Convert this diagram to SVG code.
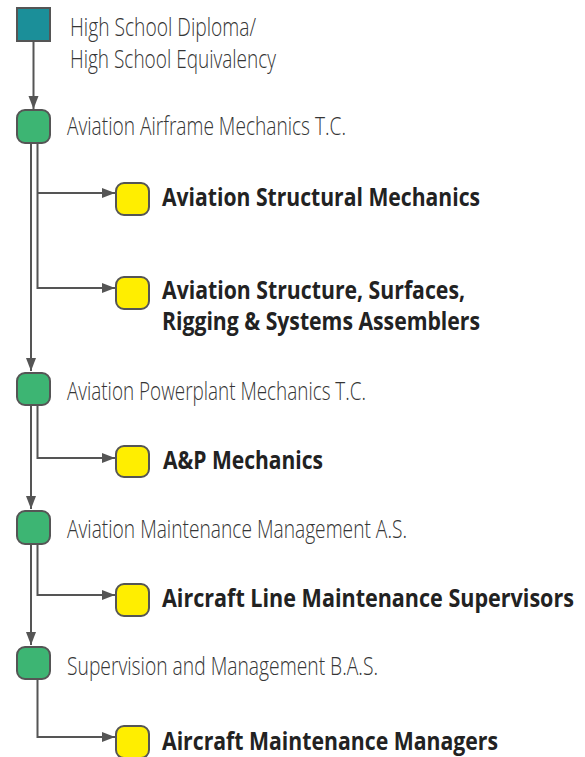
<svg xmlns="http://www.w3.org/2000/svg" width="585" height="757" viewBox="0 0 585 757">
<style>
.edge{fill:none;stroke:#555;stroke-width:2}
.sq{fill:#1b8f99;stroke:#555;stroke-width:2}
.gr{fill:#3db573;stroke:#555;stroke-width:2}
.ye{fill:#ffee00;stroke:#555;stroke-width:2}
.reg{font-family:"Open Sans","Liberation Sans",sans-serif;font-weight:300;font-size:26.5px;fill:#353535}
.hs{font-size:25px}
.bold{font-family:"Open Sans","Liberation Sans",sans-serif;font-weight:700;font-size:25px;fill:#222}
</style>
<defs>
<marker id="ah" markerUnits="userSpaceOnUse" markerWidth="14" markerHeight="12" refX="13" refY="5" orient="auto">
<path d="M0,0 L13,5 L0,10 z" fill="#555"/>
</marker>
</defs>
<rect width="585" height="757" fill="#fff"/>
<g id="connectors">
<path class="edge" d="M33.5,41 V109" marker-end="url(#ah)"/>
<path class="edge" d="M31,143 V371" marker-end="url(#ah)"/>
<path class="edge" d="M37.5,143 V288 H115" marker-end="url(#ah)"/>
<path class="edge" d="M37.5,193 H115" marker-end="url(#ah)"/>
<path class="edge" d="M31,405 V509" marker-end="url(#ah)"/>
<path class="edge" d="M37.5,405 V458 H115" marker-end="url(#ah)"/>
<path class="edge" d="M31,544 V645" marker-end="url(#ah)"/>
<path class="edge" d="M37.5,544 V595 H115" marker-end="url(#ah)"/>
<path class="edge" d="M37.5,679 V737 H115" marker-end="url(#ah)"/>
</g>
<g id="hs">
<rect class="sq" x="17" y="8" width="33" height="33"/>
<text class="reg hs" x="70" y="36" textLength="186" lengthAdjust="spacingAndGlyphs">High School Diploma/</text>
<text class="reg hs" x="70" y="68" textLength="206" lengthAdjust="spacingAndGlyphs">High School Equivalency</text>
</g>
<g id="airframe">
<rect class="gr" x="17" y="110" width="33" height="33" rx="8"/>
<text class="reg" x="67" y="135" textLength="279" lengthAdjust="spacingAndGlyphs">Aviation Airframe Mechanics T.C.</text>
</g>
<g id="structural">
<rect class="ye" x="116" y="183" width="33" height="32" rx="8"/>
<text class="bold" x="162" y="206" textLength="318" lengthAdjust="spacingAndGlyphs">Aviation Structural Mechanics</text>
</g>
<g id="assemblers">
<rect class="ye" x="116" y="277" width="33" height="32" rx="8"/>
<text class="bold" x="162" y="299" textLength="303" lengthAdjust="spacingAndGlyphs">Aviation Structure, Surfaces,</text>
<text class="bold" x="162" y="330" textLength="318" lengthAdjust="spacingAndGlyphs">Rigging &amp; Systems Assemblers</text>
</g>
<g id="powerplant">
<rect class="gr" x="17" y="373" width="33" height="32" rx="8"/>
<text class="reg" x="67" y="400" textLength="299" lengthAdjust="spacingAndGlyphs">Aviation Powerplant Mechanics T.C.</text>
</g>
<g id="ap">
<rect class="ye" x="116" y="446" width="33" height="31" rx="8"/>
<text class="bold" x="163" y="469" textLength="160" lengthAdjust="spacingAndGlyphs">A&amp;P Mechanics</text>
</g>
<g id="mgmt-as">
<rect class="gr" x="17" y="511" width="33" height="33" rx="8"/>
<text class="reg" x="67" y="538" textLength="340" lengthAdjust="spacingAndGlyphs">Aviation Maintenance Management A.S.</text>
</g>
<g id="line-sup">
<rect class="ye" x="116" y="584" width="33" height="32" rx="8"/>
<text class="bold" x="0" y="0" transform="translate(162 607) scale(0.86 1)" textLength="479" lengthAdjust="spacingAndGlyphs">Aircraft Line Maintenance Supervisors</text>
</g>
<g id="bas">
<rect class="gr" x="17" y="647" width="33" height="32" rx="8"/>
<text class="reg" x="67" y="675" textLength="311" lengthAdjust="spacingAndGlyphs">Supervision and Management B.A.S.</text>
</g>
<g id="managers">
<rect class="ye" x="116" y="726" width="33" height="32" rx="8"/>
<text class="bold" x="162" y="750" textLength="336" lengthAdjust="spacingAndGlyphs">Aircraft Maintenance Managers</text>
</g>
</svg>
